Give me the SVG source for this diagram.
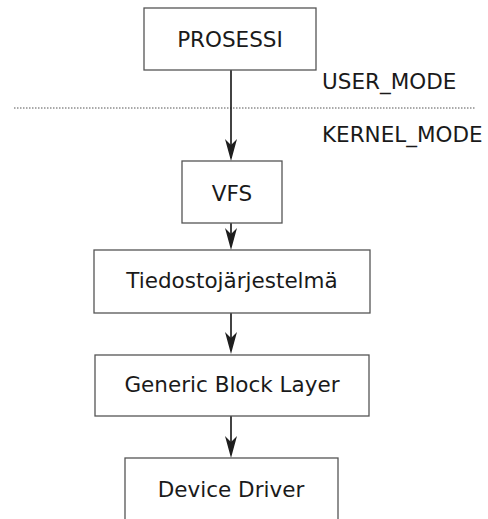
<svg xmlns="http://www.w3.org/2000/svg" width="488" height="519" viewBox="0 0 488 519">
<defs>
<path id="ah" d="M-6,-22 L0,-16 L6,-22 L0,0 Z" fill="#1e1e1e"/>
</defs>
<style>
.box{fill:#fff;stroke:#555;stroke-width:1.3}
.lbl{font-family:"DejaVu Sans",sans-serif;font-size:21.5px;fill:#1a1a1a;text-anchor:middle}
.side{font-family:"DejaVu Sans",sans-serif;font-size:21.5px;fill:#1a1a1a}
.conn{stroke:#222;stroke-width:1.7;fill:none}
</style>
<rect width="488" height="519" fill="#fff"/>
<line x1="14" y1="108" x2="476" y2="108" stroke="#555" stroke-width="1" stroke-dasharray="1.5,1.5"/>
<text class="side" x="322" y="89">USER_MODE</text>
<text class="side" x="322" y="142">KERNEL_MODE</text>
<g id="connectors">
<line class="conn" x1="231" y1="70" x2="231" y2="158"/>
<use href="#ah" x="231" y="161"/>
<line class="conn" x1="231" y1="223" x2="231" y2="246"/>
<use href="#ah" x="231" y="250"/>
<line class="conn" x1="231" y1="313" x2="231" y2="350"/>
<use href="#ah" x="231" y="354"/>
<line class="conn" x1="231" y1="416" x2="231" y2="454"/>
<use href="#ah" x="231" y="458"/>
</g>
<g id="prosessi"><rect class="box" x="144" y="8" width="172" height="62"/><text class="lbl" x="230" y="47">PROSESSI</text></g>
<g id="vfs"><rect class="box" x="182" y="161" width="100" height="62"/><text class="lbl" x="232" y="201">VFS</text></g>
<g id="tiedosto"><rect class="box" x="94" y="250" width="276" height="63"/><text class="lbl" x="232" y="288">Tiedostojärjestelmä</text></g>
<g id="gbl"><rect class="box" x="95" y="355" width="274" height="61"/><text class="lbl" x="232" y="392">Generic Block Layer</text></g>
<g id="driver"><rect class="box" x="125" y="458" width="213" height="70"/><text class="lbl" x="231" y="497">Device Driver</text></g>
</svg>
